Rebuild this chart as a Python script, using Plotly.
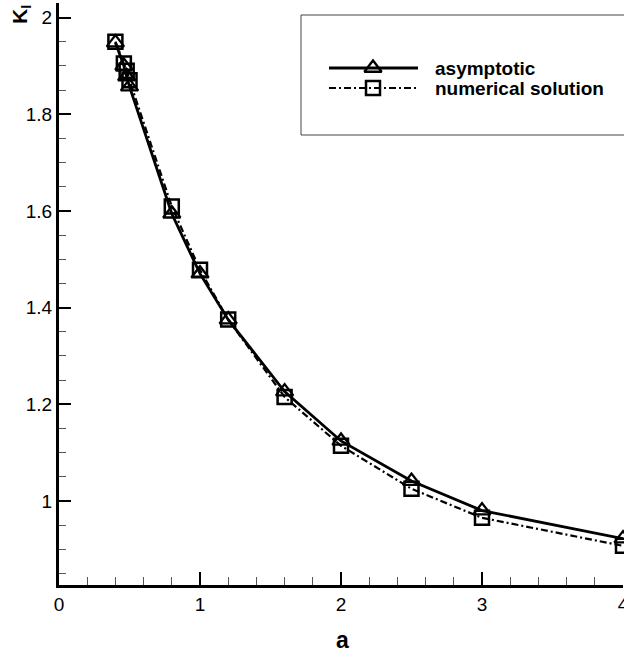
import plotly.graph_objects as go

# data
a_asym = [0.4, 0.46, 0.48, 0.5, 0.8, 1.0, 1.2, 1.6, 2.0, 2.5, 3.0, 4.0]
k_asym = [1.948, 1.90, 1.878, 1.857, 1.594, 1.47, 1.375, 1.226, 1.124, 1.041, 0.98, 0.922]
a_num = [0.4, 0.46, 0.48, 0.5, 0.8, 1.0, 1.2, 1.6, 2.0, 2.5, 3.0, 4.0]
k_num = [1.95, 1.905, 1.89, 1.87, 1.609, 1.478, 1.375, 1.215, 1.114, 1.025, 0.965, 0.907]

x_ticks = [0, 1, 2, 3, 4]
y_ticks = [1, 1.2, 1.4, 1.6, 1.8, 2]
y_ticktext = ["1", "1.2", "1.4", "1.6", "1.8", "2"]
series_names = ["asymptotic", "numerical solution"]

FONT = "Liberation Sans, Arial, sans-serif"
W, H = 624, 655
ML, MR, MT, MB = 59, 1, 3, 70
PW, PH = W - ML - MR, H - MT - MB

DASHDOT = "7px,3px,2px,3px"
asym_line = dict(color="black", width=2.8)
asym_marker = dict(symbol="triangle-up-open", size=15, color="black", line=dict(width=2.3))
num_line = dict(color="black", width=2.2, dash=DASHDOT)
num_marker = dict(symbol="square-open", size=14, color="black", line=dict(width=2.5))


def px_x(p):
    return (p - ML) / PW


def px_y(p):
    return (H - MB - p) / PH


fig = go.Figure()
fig.add_trace(go.Scatter(x=a_asym, y=k_asym, mode="lines+markers", name=series_names[0],
                         line=asym_line, marker=asym_marker, cliponaxis=False,
                         showlegend=False))
fig.add_trace(go.Scatter(x=a_num, y=k_num, mode="lines+markers", name=series_names[1],
                         line=num_line, marker=num_marker, cliponaxis=False,
                         showlegend=False))

# legend key samples on an overlay axis measured in figure pixels
LEG_X0, LEG_X1, LEG_XM = 329, 418, 373
for yy, ln, mk in [(68, asym_line, asym_marker), (88, num_line, num_marker)]:
    fig.add_trace(go.Scatter(x=[LEG_X0, LEG_X1], y=[yy, yy], mode="lines", line=ln,
                             xaxis="x2", yaxis="y2", showlegend=False, hoverinfo="skip"))
    fig.add_trace(go.Scatter(x=[LEG_XM], y=[yy], mode="markers", marker=mk,
                             xaxis="x2", yaxis="y2", showlegend=False, hoverinfo="skip"))

for yy, name in [(68, series_names[0]), (88, series_names[1])]:
    fig.add_annotation(x=px_x(433), y=px_y(yy), xref="paper", yref="paper",
                       text="<b>%s</b>" % name, showarrow=False,
                       xanchor="left", yanchor="middle",
                       font=dict(family=FONT, size=19, color="black"))

# legend frame
fig.add_shape(type="rect", xref="paper", yref="paper", x0=px_x(301), x1=px_x(650),
              y0=px_y(135), y1=px_y(15), line=dict(color="#444", width=1),
              fillcolor="rgba(0,0,0,0)")

# axis titles
fig.add_annotation(x=px_x(21), y=px_y(15), xref="paper", yref="paper",
                   text="<b>K<sub>I</sub></b>", textangle=-90, showarrow=False,
                   xanchor="center", yanchor="middle",
                   font=dict(family=FONT, size=21, color="black"))
fig.add_annotation(x=px_x(342), y=px_y(640), xref="paper", yref="paper",
                   text="<b>a</b>", showarrow=False, xanchor="center", yanchor="middle",
                   font=dict(family=FONT, size=23, color="black"))

fig.update_layout(
    width=W, height=H,
    margin=dict(l=ML, r=MR, t=MT, b=MB, autoexpand=False),
    paper_bgcolor="white", plot_bgcolor="white",
    font=dict(family=FONT, size=19, color="black"),
    xaxis=dict(range=[0, 4], tickvals=x_ticks, ticktext=[str(v) for v in x_ticks],
               ticks="inside", ticklen=13, tickwidth=2, tickcolor="black",
               ticklabeloverflow="allow",
               showline=True, linewidth=3, linecolor="black", showgrid=False,
               zeroline=False, automargin=False,
               minor=dict(dtick=0.2, ticks="inside", ticklen=8, tickwidth=1,
                          tickcolor="#555", showgrid=False)),
    yaxis=dict(range=[0.826, 2.03], tickvals=y_ticks, ticktext=y_ticktext,
               ticks="inside", ticklen=12, tickwidth=2, tickcolor="black",
               ticklabeloverflow="allow",
               showline=True, linewidth=3, linecolor="black", showgrid=False,
               zeroline=False, automargin=False,
               minor=dict(dtick=0.05, ticks="inside", ticklen=7, tickwidth=1,
                          tickcolor="#555", showgrid=False)),
    xaxis2=dict(overlaying="x", range=[ML, W - MR], visible=False, fixedrange=True),
    yaxis2=dict(overlaying="y", range=[H - MB, MT], visible=False, fixedrange=True),
)

fig.write_html("out.html", config={"displayModeBar": False},
               post_script="document.body.style.margin='0';document.body.style.overflow='hidden';")
